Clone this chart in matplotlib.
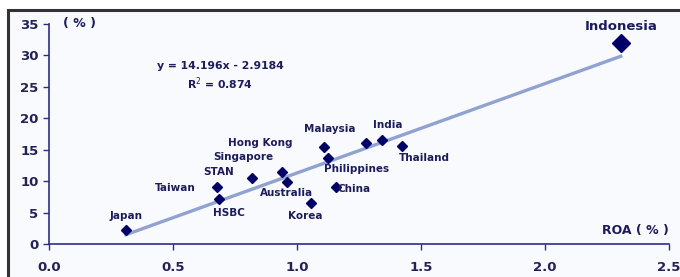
import matplotlib
matplotlib.use("Agg")
import matplotlib.pyplot as plt
import numpy as np
from matplotlib.patches import Rectangle

# ROA vs ROE by market
names = ["Japan", "Taiwan", "HSBC", "STAN", "Singapore", "Australia", "Korea",
         "Hong Kong", "Philippines", "China", "Malaysia", "India", "Thailand", "Indonesia"]
roa = [0.31, 0.677, 0.685, 0.818, 0.939, 0.959, 1.056,
       1.108, 1.124, 1.156, 1.277, 1.342, 1.422, 2.305]
roe = [2.2, 9.05, 7.1, 10.5, 11.4, 9.8, 6.5,
       15.4, 13.7, 9.0, 16.0, 16.5, 15.6, 31.9]
# label offsets in points (dx, dy)
offsets = {
    "Japan": (0, 10), "Taiwan": (-30, -1), "HSBC": (7, -10), "STAN": (-24, 4),
    "Singapore": (-28, 11), "Australia": (0, -8), "Korea": (-4, -9),
    "Hong Kong": (-46, 3), "Philippines": (21, -8), "China": (13, -1),
    "Malaysia": (-26, 10), "India": (4, 11), "Thailand": (16, -9), "Indonesia": (0, 12),
}

slope, intercept = 14.196, -2.9184

navy = "#000066"
txt = "#1c1c5c"
axc = "#2e2e88"

fig = plt.figure(figsize=(6.8, 2.77), dpi=100)
fig.patch.set_facecolor("white")
frame = Rectangle((8 / 680, -0.1), 1.2, 0.964 + 0.1, transform=fig.transFigure,
                  fill=True, facecolor="#f9fafd", edgecolor="#333333", lw=2.2, zorder=-5)
fig.patches.append(frame)

ax = fig.add_axes([0.072, 0.119, 0.912, 0.796])
ax.set_facecolor("none")
ax.set_zorder(2)

xs = np.array([min(roa), max(roa)])
ax.plot(xs, slope * xs + intercept, color="#8fa2d0", lw=2.4, zorder=2)

for n, x, y in zip(names, roa, roe):
    big = n == "Indonesia"
    ax.plot(x, y, marker="D", ms=9 if big else 5, color=navy, ls="none", zorder=3)
    dx, dy = offsets[n]
    ax.annotate(n, (x, y), xytext=(dx, dy), textcoords="offset points",
                ha="center", va="center", fontsize=9.5 if big else 7.5,
                fontweight="bold", color=txt)

ax.text(0.69, 26.6, "y = 14.196x - 2.9184\nR$^2$ = 0.874", ha="center", va="center",
        fontsize=7.8, fontweight="bold", color=txt, linespacing=1.35)

ax.set_xlim(0, 2.5)
ax.set_ylim(0, 35)
ax.set_xticks(np.arange(0, 2.51, 0.5))
ax.set_yticks(np.arange(0, 36, 5))
ax.set_xticklabels([f"{v:.1f}" for v in np.arange(0, 2.51, 0.5)])
for s in ["top", "right"]:
    ax.spines[s].set_visible(False)
for s in ["left", "bottom"]:
    ax.spines[s].set_color(axc)
    ax.spines[s].set_linewidth(1.2)
ax.tick_params(axis="both", colors=axc, direction="out", length=4, width=1,
               labelsize=9.5, labelcolor="#222255")
ax.tick_params(axis="x", pad=8)
for lab in ax.get_xticklabels() + ax.get_yticklabels():
    lab.set_fontweight("bold")

ax.text(0.055, 35, "( % )", ha="left", va="center", fontsize=9, fontweight="bold", color=txt)
ax.text(2.5, 2.2, "ROA ( % )", ha="right", va="center", fontsize=9, fontweight="bold", color=txt)

fig.savefig("out.png", dpi=100)
